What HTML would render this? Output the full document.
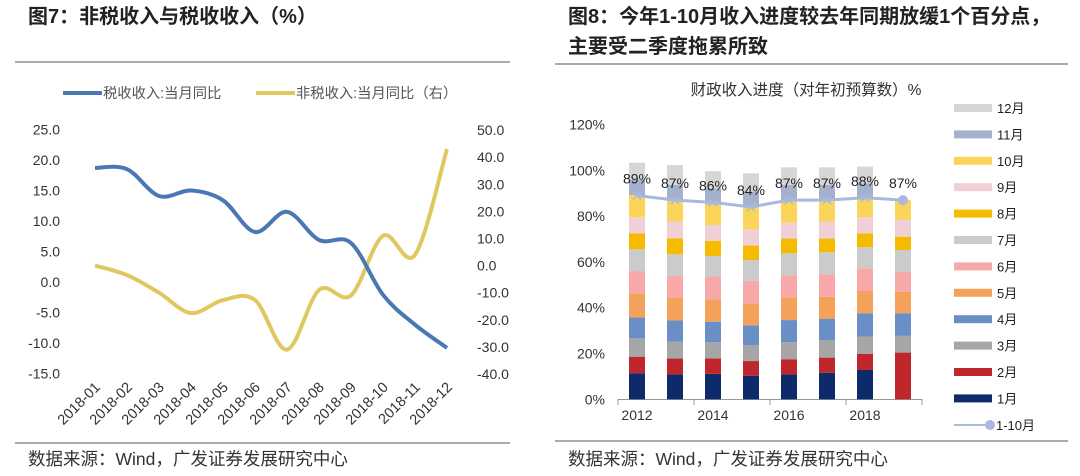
<!DOCTYPE html>
<html><head><meta charset="utf-8">
<style>
body{margin:0;background:#fff;width:1080px;height:471px;overflow:hidden;font-family:"Liberation Sans","Noto Sans CJK SC",sans-serif;}
svg text{font-family:"Liberation Sans","Noto Sans CJK SC",sans-serif;}
</style></head>
<body>
<svg id="c" width="1080" height="471" xmlns="http://www.w3.org/2000/svg">
<text x="28" y="23" font-size="20" font-weight="bold" fill="#222">图7：非税收入与税收收入（%）</text>
<line x1="15" y1="62" x2="510" y2="62" stroke="#555" stroke-width="1"/>
<g>
<line x1="63" y1="93" x2="102" y2="93" stroke="#4a78b5" stroke-width="4"/>
<text x="103" y="98" font-size="14.3" fill="#555">税收收入:当月同比</text>
<line x1="256" y1="93" x2="295" y2="93" stroke="#e0c861" stroke-width="4"/>
<text x="296" y="98" font-size="14.3" fill="#555">非税收入:当月同比（右）</text>
</g>
<text x="568" y="23" font-size="20" font-weight="bold" fill="#222">图8：今年1-10月收入进度较去年同期放缓1个百分点，</text>
<text x="568" y="53" font-size="20" font-weight="bold" fill="#222">主要受二季度拖累所致</text>
<line x1="555" y1="64" x2="1068" y2="64" stroke="#555" stroke-width="1"/>
<text x="806" y="95" font-size="15.5" fill="#333" text-anchor="middle">财政收入进度（对年初预算数）%</text>
<line x1="15" y1="443" x2="510" y2="443" stroke="#555" stroke-width="1"/>
<line x1="555" y1="441" x2="1068" y2="441" stroke="#555" stroke-width="1"/>
<text x="28" y="465" font-size="17.5" fill="#333">数据来源：Wind，广发证券发展研究中心</text>
<text x="568" y="465" font-size="17.5" fill="#333">数据来源：Wind，广发证券发展研究中心</text>
<g id="left"></g><g id="right"></g>
</svg>
<script>
// Left chart data
const months = ["2018-01","2018-02","2018-03","2018-04","2018-05","2018-06","2018-07","2018-08","2018-09","2018-10","2018-11","2018-12"];
const taxYoY = [18.7,18.5,14.1,15.0,13.4,8.2,11.5,6.9,6.4,-2.1,-7.0,-10.8];
const nonTaxYoY = [0,-3.5,-10,-17.5,-12.7,-12.7,-31,-9,-11,11,4,43];
const leftTicks = [25,20,15,10,5,0,-5,-10,-15];
const rightTicks = [50,40,30,20,10,0,-10,-20,-30,-40];
// Right chart data
const years = ["2012","2013","2014","2015","2016","2017","2018","2019"];
const monthNames = ["1月","2月","3月","4月","5月","6月","7月","8月","9月","10月","11月","12月"];
const m1 = [11.4,10.9,11.1,10.3,10.9,11.6,12.8,0];
const m2 = [7.2,6.9,6.7,6.4,6.6,6.6,7.0,20.4];
const m3 = [8.0,7.4,7.1,7.0,7.4,7.7,7.6,7.3];
const m4 = [9.1,9.2,9.0,8.6,9.7,9.3,10.2,9.9];
const m5 = [10.6,10.0,9.8,9.5,9.8,9.6,9.7,9.3];
const m6 = [9.7,9.6,9.9,9.9,9.7,9.8,9.9,8.8];
const m7 = [9.5,9.3,9.0,9.1,9.7,9.6,9.2,9.5];
const m8 = [7.0,7.0,6.6,6.4,6.4,6.0,6.1,5.8];
const m9 = [7.0,7.3,6.9,7.0,6.9,7.4,7.0,7.3];
const m10 = [9.7,9.4,9.0,9.5,9.9,9.4,8.1,8.7];
const m11 = [6.6,6.6,7.0,7.0,6.6,6.6,6.7,0];
const m12 = [7.5,8.7,7.5,8.0,7.7,7.7,7.3,0];
const progress = [89,87,86,84,87,87,88,87];
const pctTicks = [0,20,40,60,80,100,120];

const NS="http://www.w3.org/2000/svg";
function mk(parent,tag,attrs,text){const e=document.createElementNS(NS,tag);for(const k in attrs)e.setAttribute(k,attrs[k]);if(text!==undefined)e.textContent=text;parent.appendChild(e);return e;}

// ---- Left chart
const L=document.getElementById('left');
const yL=v=>282-(v)*6.1;
const yR=v=>265.6-(v)*2.711;
const xL=i=>95+i*32;
leftTicks.forEach(t=>{const e=mk(L,'text',{x:60,y:yL(t)+5,'font-size':14,fill:'#333','text-anchor':'end'},t.toFixed(1));

});
rightTicks.forEach(t=>{const e=mk(L,'text',{x:477,y:yR(t)+5,'font-size':14,fill:'#333'},t.toFixed(1));

});
months.forEach((m,i)=>{const x=xL(i)+6,y=388;const e=mk(L,'text',{x:x,y:y,'font-size':14.5,fill:'#333','text-anchor':'end',transform:`rotate(-45 ${x} ${y})`},m);

});
function smooth(pts){let d=`M${pts[0][0]},${pts[0][1]}`;for(let i=0;i<pts.length-1;i++){const p0=pts[i-1]||pts[i],p1=pts[i],p2=pts[i+1],p3=pts[i+2]||p2;const c1=[p1[0]+(p2[0]-p0[0])/6,p1[1]+(p2[1]-p0[1])/6],c2=[p2[0]-(p3[0]-p1[0])/6,p2[1]-(p3[1]-p1[1])/6];d+=` C${c1[0]},${c1[1]} ${c2[0]},${c2[1]} ${p2[0]},${p2[1]}`;}return d;}
const pn=mk(L,'path',{d:smooth(nonTaxYoY.map((v,i)=>[xL(i),yR(v)])),fill:'none',stroke:'#e0c861','stroke-width':4});


const pt=mk(L,'path',{d:smooth(taxYoY.map((v,i)=>[xL(i),yL(v)])),fill:'none',stroke:'#4a78b5','stroke-width':4});



// ---- Right chart
const R=document.getElementById('right');
const yP=v=>399.3-v*2.29;
const xB=i=>637+i*38;
pctTicks.forEach(t=>{const e=mk(R,'text',{x:605,y:yP(t)+5,'font-size':14,fill:'#333','text-anchor':'end'},t+'%');

});
const axl=mk(R,'line',{x1:618,y1:399.5,x2:922,y2:399.5,stroke:'#999'});


[0,1,2,3,4].forEach(k=>{const e=mk(R,'line',{x1:618+k*76,x2:618+k*76,y1:399,y2:405,stroke:'#999'});

});
years.forEach((y,i)=>{if(i%2===0){const e=mk(R,'text',{x:xB(i),y:420,'font-size':14,fill:'#333','text-anchor':'middle'},y);

}});
const series=[m1,m2,m3,m4,m5,m6,m7,m8,m9,m10,m11,m12];
const colors=["#0d2a6b","#c0272d","#a6a6a6","#6a8fc7","#f4a25a","#f7a8a8","#cbcbcb","#f5bb00","#f0d0d6","#fbd45c","#a3b1cd","#d6d6d6"];
years.forEach((y,i)=>{let cum=0;series.forEach((s,k)=>{const v=s[i];if(v<=0)return;const r=mk(R,'rect',{x:xB(i)-8,y:yP(cum+v),width:16,height:v*2.29,fill:colors[k]});

cum+=v;});});
const pl=mk(R,'polyline',{points:progress.map((v,i)=>`${xB(i)},${yP(v)}`).join(' '),fill:'none',stroke:'#a9b8dc','stroke-width':3});


progress.forEach((v,i)=>{const x=xB(i),y=yP(v);
if(i<progress.length-1){const m=mk(R,'path',{d:`M${x-4},${y-4}L${x+4},${y+4}M${x-4},${y+4}L${x+4},${y-4}`,stroke:'#a9b8dc','stroke-width':1.5});

}
else{const m=mk(R,'circle',{cx:x,cy:y,r:5,fill:'#a9b8dc'});

}
const t=mk(R,'text',{x:x,y:y-12,'font-size':14,fill:'#222','text-anchor':'middle'},v+'%');

});
// legend
for(let k=11;k>=0;k--){const y=108+(11-k)*26.4;
const s=mk(R,'rect',{x:954,y:y-4,width:38,height:8,fill:colors[k]});


const t=mk(R,'text',{x:997,y:y+5,'font-size':13,fill:'#222'},monthNames[k]);

}
{const y=425;const l=mk(R,'line',{x1:954,x2:990,y1:y,y2:y,stroke:'#a9b8dc','stroke-width':2});


const c=mk(R,'circle',{cx:990,cy:y,r:5,fill:'#a9b8dc'});


const t=mk(R,'text',{x:996,y:y+5,'font-size':13,fill:'#222'},'1-10月');

}
</script>
</body></html>
